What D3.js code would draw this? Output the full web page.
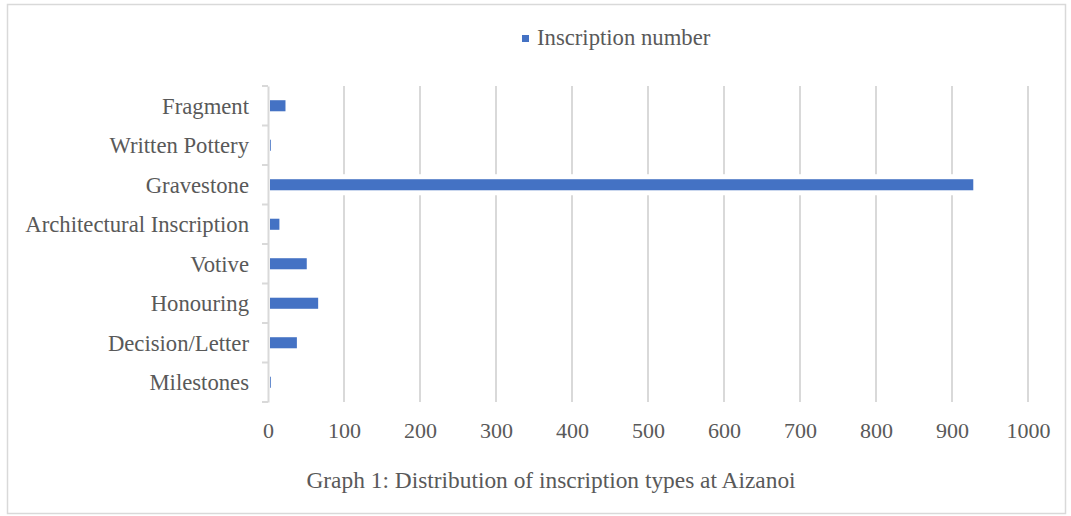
<!DOCTYPE html>
<html><head><meta charset="utf-8">
<script src="https://cdn.jsdelivr.net/npm/d3@7"></script>
<style>body{margin:0;background:#fff}svg{display:block}</style>
</head><body>
<script>
const categories = ["Fragment","Written Pottery","Gravestone","Architectural Inscription","Votive","Honouring","Decision/Letter","Milestones"];
const values = [23, 2, 928, 15, 51, 66, 38, 2];
const tickValues = [0,100,200,300,400,500,600,700,800,900,1000];
const seriesName = "Inscription number";
const title = "Graph 1: Distribution of inscription types at Aizanoi";

const W = 1071, H = 516;
const svg = d3.select("body").append("svg").attr("width", W).attr("height", H);
const font = "'Liberation Serif','Times New Roman',serif";
const grey = "#595959", line = "#d9d9d9", blue = "#4472c4";

svg.append("rect").attr("x",7.5).attr("y",4.5).attr("width",1058).attr("height",509)
  .attr("fill","#fff").attr("stroke",line).attr("stroke-width",1.5);

const x = d3.scaleLinear().domain([0,1000]).range([268,1028]);
const y = d3.scaleBand().domain(categories).range([86,402]).paddingInner(0.72).paddingOuter(0.36);
const yb = d3.scaleBand().domain(categories).range([86,402]);

// gridlines
svg.append("g").selectAll("line").data(tickValues.filter(d=>d>0)).join("line")
  .attr("x1",d=>x(d)).attr("x2",d=>x(d)).attr("y1",86).attr("y2",402)
  .attr("stroke",line).attr("stroke-width",2);

// y axis
const yAxis = d3.axisLeft(yb).tickSize(0).tickFormat("");
const ga = svg.append("g").attr("transform","translate(268,0)").call(yAxis);
ga.select(".domain").attr("stroke",line).attr("stroke-width",2);
svg.append("g").selectAll("line").data(d3.range(categories.length+1)).join("line")
  .attr("x1",262).attr("x2",268).attr("y1",i=>86+i*yb.step()).attr("y2",i=>86+i*yb.step())
  .attr("stroke",line).attr("stroke-width",2);

svg.append("g").selectAll("text").data(categories).join("text")
  .attr("x",249).attr("y",d=>yb(d)+yb.bandwidth()/2).attr("dy","0.35em")
  .attr("text-anchor","end").attr("font-family",font).attr("font-size",22.7).attr("fill",grey)
  .text(d=>d);

// bars with white halo
const data = categories.map((c,i)=>({c, v: values[i]}));
svg.append("g").selectAll("rect").data(data).join("rect")
  .attr("x",x(0)+2).attr("y",d=>y(d.c)-5).attr("width",d=>x(d.v)-x(0)+3).attr("height",y.bandwidth()+10)
  .attr("fill","#fff");
svg.append("g").selectAll("rect").data(data).join("rect")
  .attr("x",x(0)+2).attr("y",d=>y(d.c)).attr("width",d=>Math.max(0.8,x(d.v)-x(0)-2)).attr("height",y.bandwidth())
  .attr("fill",blue);

// x tick labels
const xAxis = d3.axisBottom(x).tickValues(tickValues).tickFormat(d3.format("d")).tickSize(0).tickPadding(0);
const gx = svg.append("g").attr("transform","translate(0,402)").call(xAxis);
gx.select(".domain").remove();
gx.selectAll("text").attr("y",36).attr("dy",0).attr("font-family",font).attr("font-size",22).attr("fill",grey);

// legend
svg.append("rect").attr("x",522).attr("y",35).attr("width",7).attr("height",7).attr("fill",blue);
svg.append("text").attr("x",537).attr("y",45).attr("font-family",font).attr("font-size",22.7).attr("fill",grey).text(seriesName);

// title
svg.append("text").attr("x",551).attr("y",488).attr("text-anchor","middle")
  .attr("font-family",font).attr("font-size",23.4).attr("fill",grey).text(title);
</script>
</body></html>
